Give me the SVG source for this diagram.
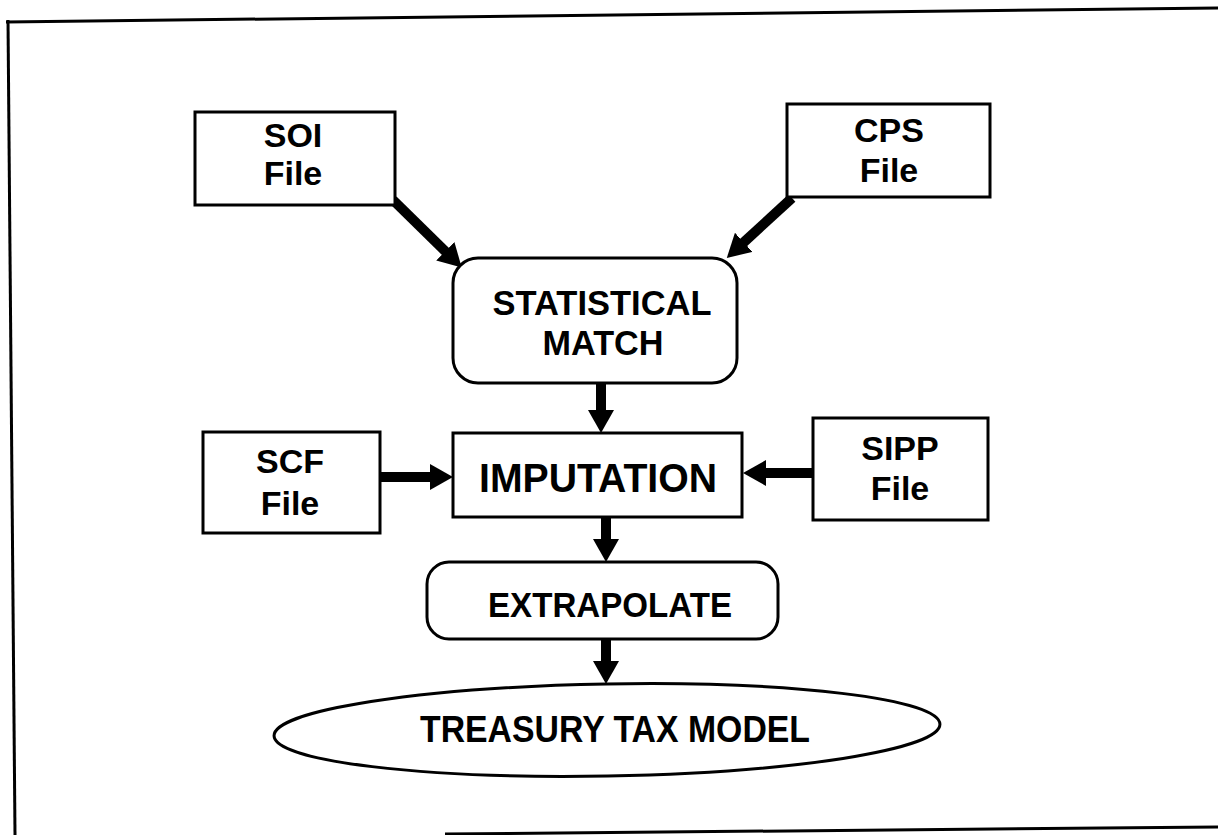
<svg xmlns="http://www.w3.org/2000/svg" width="1218" height="835" viewBox="0 0 1218 835">
<style>
.box{fill:#fff;stroke:#000;stroke-width:3}
.t{font-family:"Liberation Sans",Arial,sans-serif;font-weight:bold;fill:#000;text-anchor:middle}
.s{font-size:34px}
.conn{stroke:#000;stroke-width:10;fill:none;marker-end:url(#ah)}
.frame{stroke:#000;stroke-width:3;fill:none}
</style>
<defs>
<marker id="ah" markerUnits="userSpaceOnUse" markerWidth="24" markerHeight="26" refX="1" refY="13" orient="auto">
<path d="M0,0 L23,13 L0,26 z" fill="#000"/>
</marker>
</defs>
<rect width="1218" height="835" fill="#fff"/>
<g id="frame">
<line class="frame" x1="6" y1="22" x2="1218" y2="8"/>
<line class="frame" x1="8" y1="20" x2="15" y2="835"/>
<line class="frame" x1="445" y1="834" x2="1218" y2="827"/>
</g>
<g id="connectors">
<line class="conn" x1="393" y1="200" x2="446" y2="252"/>
<line class="conn" x1="792" y1="198" x2="743" y2="243"/>
<line class="conn" x1="601" y1="383" x2="601" y2="411"/>
<line class="conn" x1="380" y1="477" x2="431" y2="477"/>
<line class="conn" x1="813" y1="473" x2="765" y2="473"/>
<line class="conn" x1="606" y1="517" x2="606" y2="540"/>
<line class="conn" x1="606" y1="639" x2="606" y2="662"/>
</g>
<g id="soi">
<rect class="box" x="195" y="112" width="200" height="93"/>
<text class="t s" x="293" y="147">SOI</text>
<text class="t s" x="293" y="185">File</text>
</g>
<g id="cps">
<rect class="box" x="787" y="104" width="203" height="93"/>
<text class="t s" x="889" y="142">CPS</text>
<text class="t s" x="889" y="182">File</text>
</g>
<g id="match">
<rect class="box" x="453" y="258" width="284" height="125" rx="25"/>
<text class="t" x="602" y="315" font-size="35" textLength="219" lengthAdjust="spacingAndGlyphs">STATISTICAL</text>
<text class="t" x="603" y="355" font-size="35" textLength="121" lengthAdjust="spacingAndGlyphs">MATCH</text>
</g>
<g id="scf">
<rect class="box" x="203" y="432" width="177" height="101"/>
<text class="t s" x="290" y="473">SCF</text>
<text class="t s" x="290" y="515">File</text>
</g>
<g id="imputation">
<rect class="box" x="453" y="433" width="289" height="84"/>
<text class="t" x="598" y="492" font-size="41" textLength="238" lengthAdjust="spacingAndGlyphs">IMPUTATION</text>
</g>
<g id="sipp">
<rect class="box" x="813" y="418" width="175" height="102"/>
<text class="t s" x="900" y="460">SIPP</text>
<text class="t s" x="900" y="500">File</text>
</g>
<g id="extrapolate">
<rect class="box" x="427" y="562" width="351" height="77" rx="22"/>
<text class="t" x="610" y="617" font-size="35" textLength="244" lengthAdjust="spacingAndGlyphs">EXTRAPOLATE</text>
</g>
<g id="model">
<ellipse class="box" cx="607" cy="730" rx="333" ry="46" transform="rotate(-1 607 730)"/>
<text class="t" x="615" y="742" font-size="36" textLength="390" lengthAdjust="spacingAndGlyphs">TREASURY TAX MODEL</text>
</g>
</svg>
